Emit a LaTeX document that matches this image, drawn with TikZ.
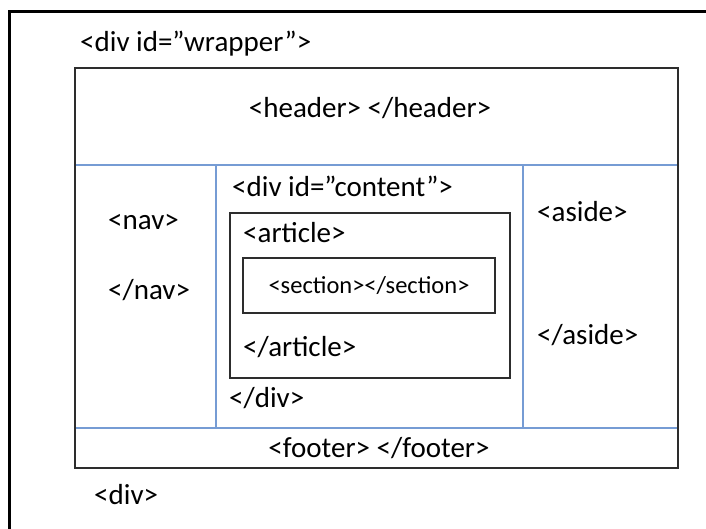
\documentclass[tikz,border=0pt]{standalone}
\usepackage{fontspec}
\setmainfont{Carlito}
\usetikzlibrary{positioning}
\definecolor{layoutblue}{RGB}{118,156,212}
\definecolor{framegray}{RGB}{45,45,45}

\begin{document}
\begin{tikzpicture}[
    x=1pt, y=-1pt,
    every node/.style={font=\fontsize{29}{34}\selectfont, inner sep=0pt,
                       text height=0.72em, text depth=0.2em},
    tag/.style={anchor=west},
    smalltag/.style={font=\fontsize{24.5}{29}\selectfont},
    boxline/.style={draw=framegray, line width=2.2pt},
    gridline/.style={draw=layoutblue, line width=1.8pt}
  ]
  \useasboundingbox (0,0) rectangle (706,529);

  % Outer frame, runs off the right and bottom edge
  \begin{scope}
    \clip (0,0) rectangle (706,529);
    \draw[black, line width=3pt] (9,12) rectangle (730,560);
  \end{scope}

  % Wrapper with header, columns and footer
  \draw[gridline] (75,165) -- (678,165);
  \draw[gridline] (75,428) -- (678,428);
  \draw[gridline] (216,165) -- (216,428);
  \draw[gridline] (523,165) -- (523,428);
  \draw[boxline] (75,68) rectangle (678,468);

  % Content: article and section
  \draw[boxline] (230,213) rectangle (510,378);
  \draw[boxline] (243,258) rectangle (495,313);

  \node[tag] (wrapper) at (80,49) {<div id=”wrapper”>};
  \node (header) at (370,115) {<header> </header>};

  % Left: nav
  \node[tag] (navopen) at (108,227) {<nav>};
  \node[tag] (navclose) at (108,297) {</nav>};

  % Middle: content
  \node[tag] (contentopen) at (232,194) {<div id=”content”>};
  \node[tag] (articleopen) at (243,240) {<article>};
  \node[smalltag] (section) at (369,291) {<section></section>};
  \node[tag] (articleclose) at (243,354) {</article>};
  \node[tag] (contentclose) at (229,405) {</div>};

  % Right: aside
  \node[tag] (asideopen) at (537,219) {<aside>};
  \node[tag] (asideclose) at (537,342) {</aside>};

  % Bottom: footer
  \node (footer) at (379,455) {<footer> </footer>};
  \node[tag] (divend) at (94,502) {<div>};
\end{tikzpicture}
\end{document}
